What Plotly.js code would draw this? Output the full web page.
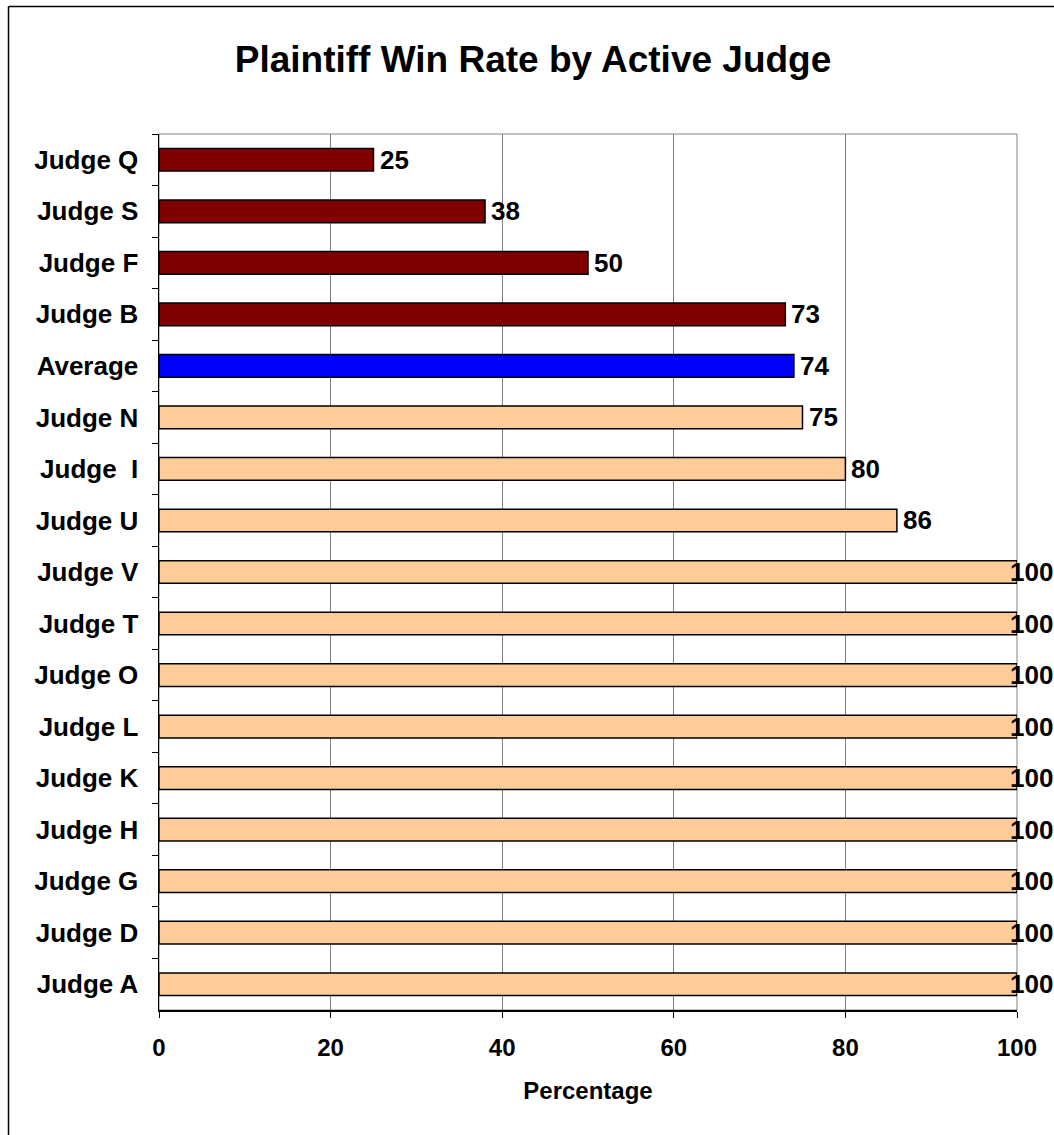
<!DOCTYPE html>
<html>
<head>
<meta charset="utf-8">
<script src="https://cdn.plot.ly/plotly-3.0.1.min.js"></script>
<style>html,body{margin:0;padding:0;background:#fff;}#chart{width:1054px;height:1135px;}</style>
</head>
<body>
<div id="chart"></div>
<script>
// Categories listed top to bottom as in the chart
const judges = ["Judge Q","Judge S","Judge F","Judge B","Average","Judge N","Judge\u00a0 I","Judge U","Judge V","Judge T","Judge O","Judge L","Judge K","Judge H","Judge G","Judge D","Judge A"];
const winRate = [25, 38, 50, 73, 74, 75, 80, 86, 100, 100, 100, 100, 100, 100, 100, 100, 100];
const groups = ["low","low","low","low","avg","high","high","high","high","high","high","high","high","high","high","high","high"];
const xTicks = [0, 20, 40, 60, 80, 100];

const groupColors = {low: "#800000", avg: "#0000FF", high: "#FFCC99"};
const FONT = "Liberation Sans, Arial, sans-serif";
const xMax = 100;

const trace = {
  type: "bar",
  orientation: "h",
  y: judges,
  x: winRate,
  width: 0.44,
  marker: {
    color: groups.map(g => groupColors[g]),
    line: {color: "#000000", width: 1.5}
  },
  hoverinfo: "x+y"
};

const annotations = judges.map((j, i) => ({
  x: winRate[i],
  y: j,
  xref: "x",
  yref: "y",
  text: String(winRate[i]),
  showarrow: false,
  xanchor: "left",
  yanchor: "middle",
  xshift: winRate[i] >= xMax ? -9 : 4,
  font: {family: FONT, size: 26, color: "#000", weight: "bold"}
}));

// pixel -> paper helpers for the outer frame
const L = 159, R = 37, T = 134, B = 125, W = 1054, H = 1135;
const pw = W - L - R, ph = H - T - B;
const px2x = p => (p - L) / pw;
const px2y = p => (H - B - p) / ph;

const layout = {
  width: W,
  height: H,
  margin: {l: L, r: R, t: T, b: B, pad: 0},
  paper_bgcolor: "#ffffff",
  plot_bgcolor: "#ffffff",
  showlegend: false,
  title: {
    text: "Plaintiff Win Rate by Active Judge",
    font: {family: FONT, size: 37, color: "#000", weight: "bold"},
    xref: "container", x: 533 / W, xanchor: "center",
    yref: "container", y: 1 - 59 / H, yanchor: "middle"
  },
  xaxis: {
    range: [0, xMax],
    tickvals: xTicks,
    ticktext: xTicks.map(String),
    showgrid: true,
    gridcolor: "#808080",
    gridwidth: 1,
    zeroline: false,
    showline: true,
    linecolor: "#000",
    linewidth: 1.5,
    ticks: "outside",
    ticklen: 6,
    tickcolor: "#000",
    tickfont: {family: FONT, size: 24, color: "#000", weight: "bold"},
    ticklabelstandoff: 10,
    title: {
      text: "Percentage",
      font: {family: FONT, size: 24, color: "#000", weight: "bold"},
      standoff: 22
    },
    fixedrange: true
  },
  yaxis: {
    type: "category",
    autorange: "reversed",
    showgrid: false,
    zeroline: false,
    showline: true,
    linecolor: "#000",
    linewidth: 1.5,
    ticks: "outside",
    tickson: "boundaries",
    ticklen: 6,
    tickcolor: "#000",
    tickfont: {family: FONT, size: 26, color: "#000", weight: "bold"},
    ticklabelstandoff: 14,
    fixedrange: true
  },
  shapes: [
    {type: "rect", xref: "paper", yref: "paper", x0: 0, x1: 1, y0: 0, y1: 1,
     line: {color: "#808080", width: 1}, layer: "below"},
    {type: "line", xref: "paper", yref: "paper",
     x0: px2x(8.5), x1: px2x(8.5), y0: px2y(1135), y1: px2y(6.5),
     line: {color: "#000", width: 1.5}, layer: "below"},
    {type: "line", xref: "paper", yref: "paper",
     x0: px2x(8.5), x1: px2x(1054), y0: px2y(6.5), y1: px2y(6.5),
     line: {color: "#000", width: 1.5}, layer: "below"}
  ],
  annotations: annotations
};

Plotly.newPlot("chart", [trace], layout, {displayModeBar: false, staticPlot: true});
</script>
</body>
</html>
